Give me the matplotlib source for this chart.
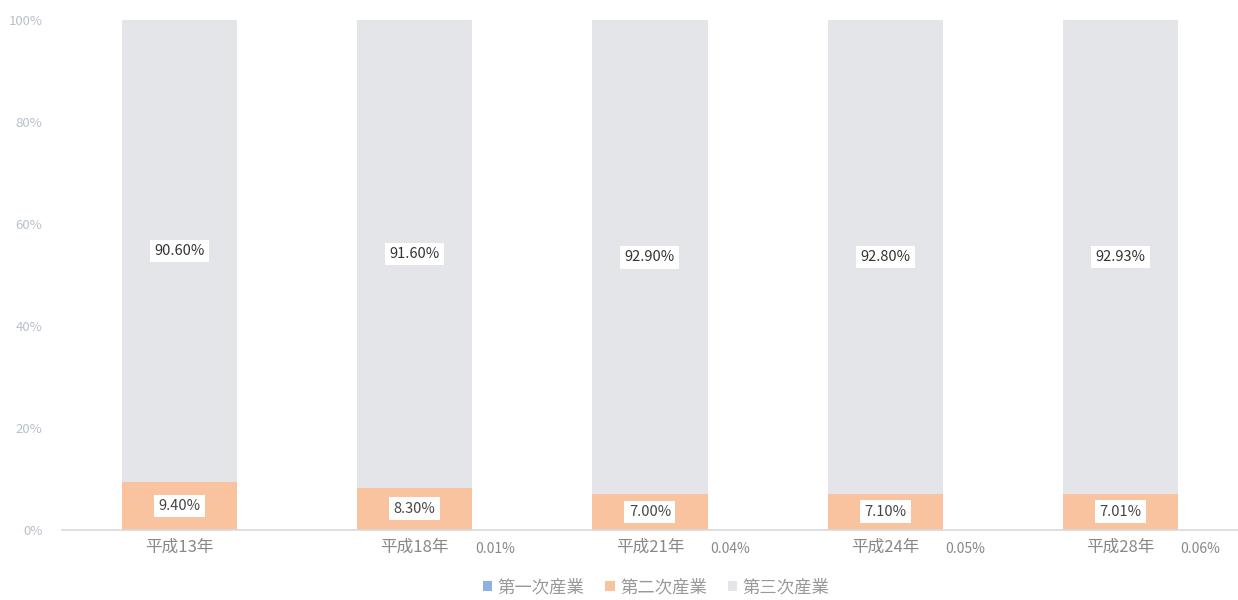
import matplotlib
matplotlib.use("Agg")
import matplotlib.pyplot as plt
import numpy as np

plt.rcParams['font.family'] = ['Noto Sans CJK JP', 'DejaVu Sans']

years = ["平成13年", "平成18年", "平成21年", "平成24年", "平成28年"]
primary = [0.00, 0.01, 0.04, 0.05, 0.06]
secondary = [9.40, 8.30, 7.00, 7.10, 7.01]
tertiary = [90.60, 91.60, 92.90, 92.80, 92.93]
primary_labels = ["", "0.01%", "0.04%", "0.05%", "0.06%"]
series_names = ["第一次産業", "第二次産業", "第三次産業"]

c_primary = "#8fb0e6"
c_secondary = "#f9c3a0"
c_tertiary = "#e4e5e9"

fig = plt.figure(figsize=(12.38, 6.0), dpi=100)
ax = fig.add_axes([0.05, 0.1167, 0.95, 0.85])

x = np.arange(len(years))
w = 0.49
p = np.array(primary)
s = np.array(secondary)
t = np.array(tertiary)

ax.bar(x, p, w, color=c_primary, label=series_names[0])
ax.bar(x, s, w, bottom=p, color=c_secondary, label=series_names[1])
ax.bar(x, t, w, bottom=p + s, color=c_tertiary, label=series_names[2])

box = dict(boxstyle="square,pad=0.3", facecolor="white", edgecolor="none")
for i in range(len(years)):
    ax.text(x[i], p[i] + s[i] / 2, f"{secondary[i]:.2f}%", ha="center", va="center",
            fontsize=10.5, color="#444444", bbox=box)
    ax.text(x[i], p[i] + s[i] + t[i] / 2, f"{tertiary[i]:.2f}%", ha="center", va="center",
            fontsize=10.5, color="#333333", bbox=box)
    if primary_labels[i]:
        ax.text(x[i] + 0.34, -3.7, primary_labels[i], ha="center", va="center",
                fontsize=10, color="#888888")

ax.set_xlim(-0.5, len(years) - 0.5)
ax.set_ylim(0, 100)
ax.set_yticks([0, 20, 40, 60, 80, 100])
ax.set_yticklabels([f"{v}%" for v in [0, 20, 40, 60, 80, 100]])
ax.set_xticks(x)
ax.set_xticklabels(years)
ax.tick_params(axis="y", length=0, labelsize=9.5, labelcolor="#b8c0cc", pad=14)
ax.tick_params(axis="x", length=0, labelsize=12, labelcolor="#888888", pad=6)
for lbl in ax.get_xticklabels():
    lbl.set_x(lbl.get_position()[0])
for sp in ["top", "right", "left"]:
    ax.spines[sp].set_visible(False)
ax.spines["bottom"].set_color("#d9d9d9")
ax.spines["bottom"].set_linewidth(1.2)

leg = fig.legend(loc="lower center", bbox_to_anchor=(0.53, -0.02), ncol=3, frameon=False,
                 fontsize=12.5, handlelength=0.55, handleheight=0.55, handletextpad=0.3,
                 columnspacing=1.2)
for txt in leg.get_texts():
    txt.set_color("#999999")

fig.savefig("out.png", dpi=100, facecolor="white")
